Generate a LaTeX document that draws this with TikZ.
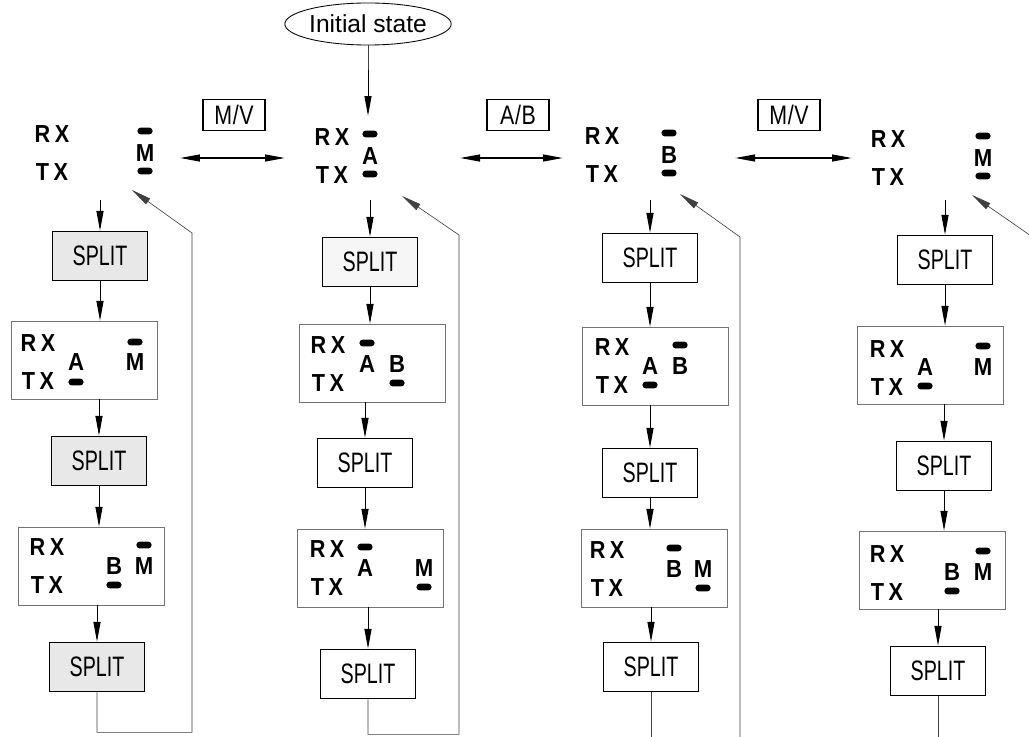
\documentclass[tikz,border=0pt]{standalone}
\usepackage{fontspec}
\setmainfont{Liberation Sans}
\newfontfamily\narrowfont[FakeStretch=0.7]{Liberation Sans}
\newfontfamily\modefont[FakeStretch=0.8]{Liberation Sans}
\newfontfamily\sigfont[FakeStretch=0.88,LetterSpace=18]{Liberation Sans}
\newfontfamily\chfont[FakeStretch=0.9]{Liberation Sans}
\usetikzlibrary{arrows.meta, positioning, shapes.geometric}

\begin{document}
\begin{tikzpicture}[x=0.025cm, y=-0.025cm,
  >={Triangle[length=14pt, width=5pt]},
  flow/.style={->, line width=0.7pt},
  dbl/.style={<->, line width=0.8pt},
  fb/.style={->, line width=0.45pt, draw=black!75},
  link/.style={line width=0.45pt, draw=black!75},
  splitbox/.style={draw, line width=1.2pt, fill=#1, minimum width=2.375cm,
    minimum height=1.225cm, inner sep=0pt,
    font=\narrowfont\fontsize{20}{22}\selectfont},
  splitbox/.default=white,
  statebox/.style={draw=black!55, line width=0.5pt, minimum width=3.65cm,
    minimum height=1.95cm, inner sep=0pt},
  topstate/.style={minimum width=#1, minimum height=2.1cm, inner sep=0pt},
  sig/.style={font=\sigfont\bfseries\fontsize{17.5}{19}\selectfont, inner sep=0pt},
  ch/.style={font=\chfont\bfseries\fontsize{17.5}{19}\selectfont, inner sep=0pt},
  bar/.style={fill=black, rounded corners=2.4pt, minimum width=0.38cm,
    minimum height=0.17cm, inner sep=0pt},
  modebox/.style={draw, line width=1.1pt, minimum width=1.55cm, minimum height=0.78cm,
    inner sep=0pt, font=\modefont\fontsize{19}{21}\selectfont},
]
\useasboundingbox (0,0) rectangle (1029,736);

% Initial state
\node[draw, ellipse, line width=0.6pt, minimum width=3.375cm, minimum height=1.05cm,
      inner sep=0pt, font=\fontsize{17.5}{20}\selectfont] (init) at (368,24) {Initial state};

% =============================================
% Top row states
% =============================================
\node[topstate=4cm] (t1) at (100,158) {};
\node[sig] (t1rx) at (52,134) {RX};
\node[sig] (t1tx) at (52,172) {TX};
\node[ch] (t1m) at (145,153) {M};
\node[bar] (t1mu) at (145,131) {};
\node[bar] (t1md) at (145,171) {};

\node[topstate=4.375cm] (t2) at (372.5,158) {};
\node[sig] (t2rx) at (332,137) {RX};
\node[sig] (t2tx) at (332,175) {TX};
\node[ch] (t2a) at (370,156) {A};
\node[bar] (t2au) at (370,134) {};
\node[bar] (t2ad) at (370,174) {};

\node[topstate=4.3cm] (t3) at (649,158) {};
\node[sig] (t3rx) at (602,136) {RX};
\node[sig] (t3tx) at (602,174) {TX};
\node[ch] (t3b) at (669,155) {B};
\node[bar] (t3bu) at (669,133) {};
\node[bar] (t3bd) at (669,173) {};

\node[topstate=4.45cm] (t4) at (941,158) {};
\node[sig] (t4rx) at (888,139) {RX};
\node[sig] (t4tx) at (888,177) {TX};
\node[ch] (t4m) at (983,158) {M};
\node[bar] (t4mu) at (983,136) {};
\node[bar] (t4md) at (983,176) {};

% Mode switches
\node[modebox] (mv1) at (234,115) {M\kern.5pt/\kern.5pt V};
\node[modebox] (ab) at (518,115) {A\kern.5pt/\kern.5pt B};
\node[modebox] (mv2) at (789,115) {M\kern.5pt/\kern.5pt V};

% =============================================
% Column 1
% =============================================
\node[splitbox=gray!18] (sp11) at (100,256) {SPLIT};
\node[statebox] (s12) at (84,360) {};
\node[sig] (s12rx) at (38,343) {RX};
\node[sig] (s12tx) at (38,381) {TX};
\node[ch] (s12a) at (76,362) {A};
\node[bar] (s12ad) at (76,382) {};
\node[ch] (s12m) at (135,362) {M};
\node[bar] (s12mu) at (135,342) {};
\node[splitbox=gray!18] (sp12) at (99,461) {SPLIT};
\node[statebox] (s13) at (91,566) {};
\node[sig] (s13rx) at (47,547) {RX};
\node[sig] (s13tx) at (47,585) {TX};
\node[ch] (s13b) at (114,566) {B};
\node[bar] (s13bd) at (114,585) {};
\node[ch] (s13m) at (144,566) {M};
\node[bar] (s13mu) at (144,545) {};
\node[splitbox=gray!18] (sp13) at (97,667) {SPLIT};

% =============================================
% Column 2
% =============================================
\node[splitbox=gray!7] (sp21) at (370,262) {SPLIT};
\node[statebox] (s22) at (372,363) {};
\node[sig] (s22rx) at (328,345) {RX};
\node[sig] (s22tx) at (328,383) {TX};
\node[ch] (s22a) at (367,364) {A};
\node[bar] (s22au) at (367,343) {};
\node[ch] (s22b) at (397,364) {B};
\node[bar] (s22bd) at (397,383) {};
\node[splitbox] (sp22) at (365,463) {SPLIT};
\node[statebox] (s23) at (370,568) {};
\node[sig] (s23rx) at (327,549) {RX};
\node[sig] (s23tx) at (327,587) {TX};
\node[ch] (s23a) at (365,568) {A};
\node[bar] (s23au) at (365,547) {};
\node[ch] (s23m) at (424,568) {M};
\node[bar] (s23md) at (424,587) {};
\node[splitbox] (sp23) at (368,674) {SPLIT};

% =============================================
% Column 3
% =============================================
\node[splitbox] (sp31) at (650,258) {SPLIT};
\node[statebox] (s32) at (655,366) {};
\node[sig] (s32rx) at (612,347) {RX};
\node[sig] (s32tx) at (612,385) {TX};
\node[ch] (s32a) at (650,366) {A};
\node[bar] (s32ad) at (650,385) {};
\node[ch] (s32b) at (680,366) {B};
\node[bar] (s32bu) at (680,345) {};
\node[splitbox] (sp32) at (650,473) {SPLIT};
\node[statebox] (s33) at (654,568) {};
\node[sig] (s33rx) at (607,550) {RX};
\node[sig] (s33tx) at (607,588) {TX};
\node[ch] (s33b) at (674,569) {B};
\node[bar] (s33bu) at (674,548) {};
\node[ch] (s33m) at (703,569) {M};
\node[bar] (s33md) at (703,588) {};
\node[splitbox] (sp33) at (651,667) {SPLIT};

% =============================================
% Column 4
% =============================================
\node[splitbox] (sp41) at (945,260) {SPLIT};
\node[statebox] (s42) at (930,365) {};
\node[sig] (s42rx) at (887,349) {RX};
\node[sig] (s42tx) at (887,387) {TX};
\node[ch] (s42a) at (925,367) {A};
\node[bar] (s42ad) at (925,386) {};
\node[ch] (s42m) at (983,367) {M};
\node[bar] (s42mu) at (983,346) {};
\node[splitbox] (sp42) at (944,466) {SPLIT};
\node[statebox] (s43) at (932,570) {};
\node[sig] (s43rx) at (887,554) {RX};
\node[sig] (s43tx) at (887,592) {TX};
\node[ch] (s43b) at (952,572) {B};
\node[bar] (s43bd) at (952,591) {};
\node[ch] (s43m) at (983,572) {M};
\node[bar] (s43mu) at (983,551) {};
\node[splitbox] (sp43) at (938,671) {SPLIT};

% feedback ends
\coordinate (fb1a) at (192,233);  \coordinate (fb1) at (132,190);
\coordinate (fb2a) at (459,235);  \coordinate (fb2) at (402,196);
\coordinate (fb3b) at (740,740);  \coordinate (fb3a) at (740,237);
\coordinate (fb3) at (680,194);
\coordinate (fb4a) at (1034,238); \coordinate (fb4) at (972,195);

% =============================================
% Arrows
% =============================================
\draw[link] (init.south) -- ++(0,25);
\draw[flow] (init.south |- 0,70) -- (init.south |- t2.north);

\draw[dbl] (t1) -- (t2);
\draw[dbl] (t2) -- (t3);
\draw[dbl] (t3) -- (t4);

% column 1
\draw[flow] (sp11.north |- t1.south) -- (sp11.north);
\draw[flow] (sp11.south) -- (sp11.south |- s12.north);
\draw[flow] (sp12.north |- s12.south) -- (sp12.north);
\draw[flow] (sp12.south) -- (sp12.south |- s13.north);
\draw[flow] (sp13.north |- s13.south) -- (sp13.north);
\draw[fb] (sp13.south) -- ++(0,40) -| (fb1a) -- (fb1);

% column 2
\draw[flow] (sp21.north |- t2.south) -- (sp21.north);
\draw[flow] (sp21.south) -- (sp21.south |- s22.north);
\draw[flow] (sp22.north |- s22.south) -- (sp22.north);
\draw[flow] (sp22.south) -- (sp22.south |- s23.north);
\draw[flow] (sp23.north |- s23.south) -- (sp23.north);
\draw[fb] (sp23.south) -- ++(0,35) -| (fb2a) -- (fb2);

% column 3
\draw[flow] (sp31.north |- t3.south) -- (sp31.north);
\draw[flow] (sp31.south) -- (sp31.south |- s32.north);
\draw[flow] (sp32.north |- s32.south) -- (sp32.north);
\draw[flow] (sp32.south) -- (sp32.south |- s33.north);
\draw[flow] (sp33.north |- s33.south) -- (sp33.north);
\draw[link] (sp33.south) -- (sp33.south |- fb3b);
\draw[fb] (fb3b) -- (fb3a) -- (fb3);

% column 4
\draw[flow] (sp41.north |- t4.south) -- (sp41.north);
\draw[flow] (sp41.south) -- (sp41.south |- s42.north);
\draw[flow] (sp42.north |- s42.south) -- (sp42.north);
\draw[flow] (sp42.south) -- (sp42.south |- s43.north);
\draw[flow] (sp43.north |- s43.south) -- (sp43.north);
\draw[link] (sp43.south) -- (sp43.south |- fb3b);
\draw[fb] (fb4a) -- (fb4);

\end{tikzpicture}
\end{document}
